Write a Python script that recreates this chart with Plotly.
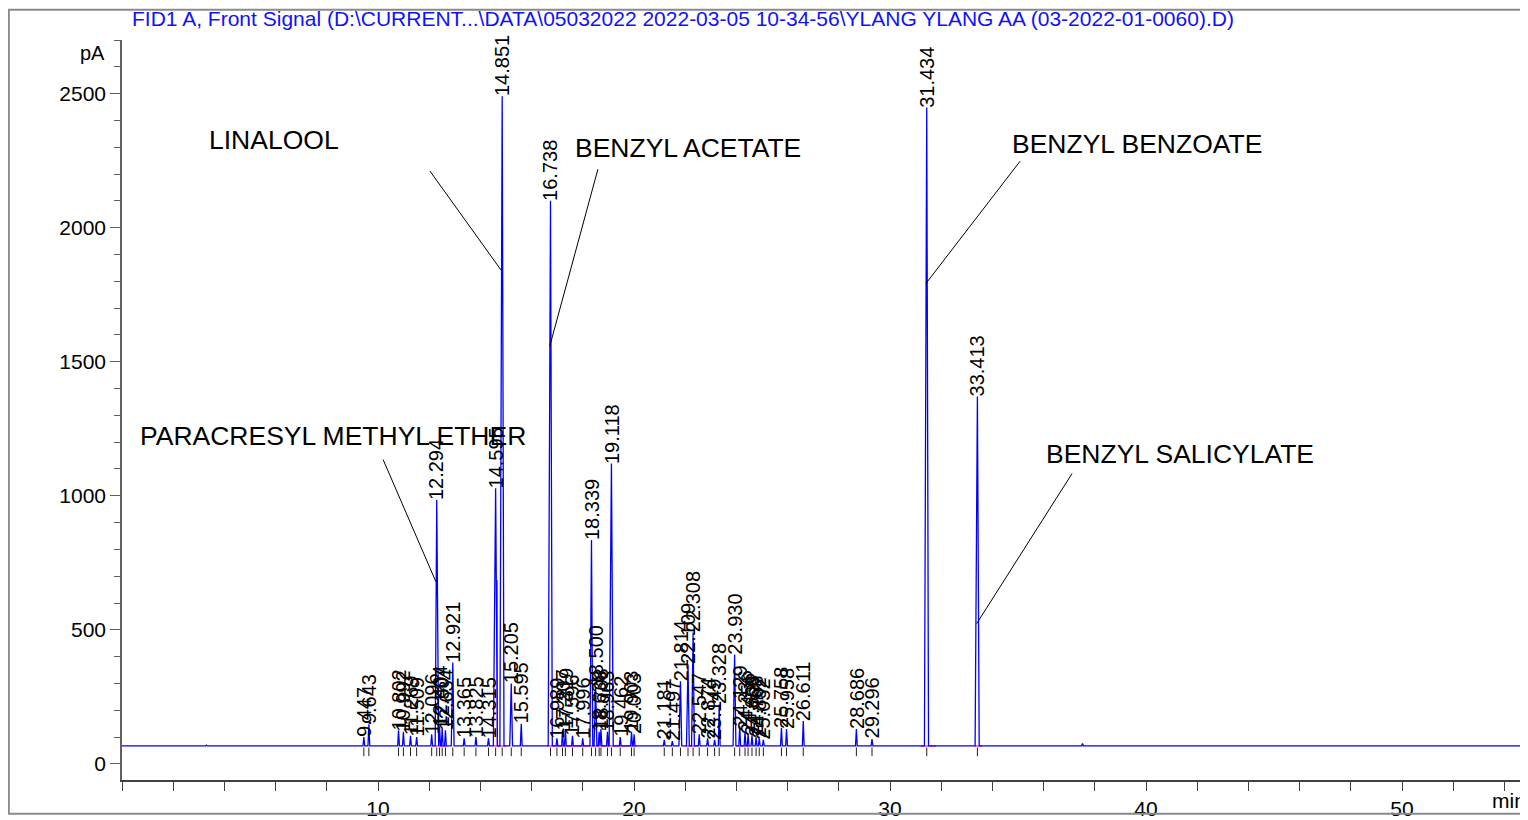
import plotly.graph_objects as go

# ---------------- data ----------------
baseline_level = 67

peak_rt = [9.447, 9.643, 10.802, 10.992, 11.269, 11.509, 12.096, 12.294, 12.404, 12.507,
           12.634, 12.921, 13.365, 13.825, 14.315, 14.595, 14.851, 15.205, 15.595, 16.738,
           16.989, 17.207, 17.319, 17.596, 17.996, 18.339, 18.500, 18.638, 18.708, 18.963,
           19.118, 19.462, 19.903, 20.003, 21.181, 21.497, 21.814, 22.109, 22.308, 22.547,
           22.874, 23.149, 23.328, 23.930, 24.129, 24.336, 24.456, 24.608, 24.768, 24.892,
           25.052, 25.758, 25.958, 26.611, 28.686, 29.296, 31.434, 33.413]
peak_height = [100, 148, 125, 120, 105, 100, 110, 985, 140, 135,
               125, 378, 95, 100, 95, 1028, 2490, 300, 150, 2100,
               95, 125, 130, 105, 95, 835, 290, 120, 130, 120,
               1120, 100, 120, 110, 90, 85, 308, 371, 490, 110,
               95, 90, 222, 408, 140, 120, 110, 105, 100, 95,
               90, 134, 130, 160, 130, 93, 2448, 1370]

extra_rt = [3.30, 37.52]
extra_height = [70, 76]

compound_names = ["PARACRESYL METHYL ETHER", "LINALOOL", "BENZYL ACETATE",
                  "BENZYL BENZOATE", "BENZYL SALICYLATE"]
compound_rt = [12.294, 14.851, 16.738, 31.434, 33.413]

integ_start = [12.20, 14.50, 16.60, 22.00, 24.00, 31.20, 33.30]
integ_end = [12.70, 15.00, 20.10, 22.50, 24.50, 31.80, 33.60]
drop_rt = [14.66]
drop_height = [685]

x_end = 54.92
title_text = ("FID1 A, Front Signal (D:\\CURRENT...\\DATA\\05032022 2022-03-05 10-34-56"
              "\\YLANG YLANG AA (03-2022-01-0060).D)")

# ---------------- build signal trace from peak list ----------------
all_peaks = sorted(zip(peak_rt + extra_rt, peak_height + extra_height))
sx, sy = [0.0], [baseline_level]
for rt, h in all_peaks:
    wl = 0.09 if h > 1000 else (0.06 if h > 250 else 0.035)
    wr = 0.07 if h > 1000 else (0.05 if h > 250 else 0.035)
    for px, py in ((rt - wl, baseline_level), (rt, h), (rt + wr, baseline_level)):
        if px > sx[-1]:
            sx.append(px); sy.append(py)
sx.append(x_end); sy.append(baseline_level)

fig = go.Figure()

# magenta integration baselines
mx, my = [], []
for a, b in zip(integ_start, integ_end):
    mx += [a, b, None]; my += [baseline_level, baseline_level, None]
for r, h in zip(drop_rt, drop_height):
    mx += [r, r, None]; my += [baseline_level, h, None]
fig.add_trace(go.Scatter(x=mx, y=my, mode="lines", line=dict(color="#ff00ff", width=1.2),
                         hoverinfo="skip"))

fig.add_trace(go.Scatter(x=sx, y=sy, mode="lines", line=dict(color="#0000ff", width=1.3),
                         hoverinfo="skip"))

# event ticks under peaks
tx, ty = [], []
for rt in peak_rt:
    tx += [rt, rt, None]; ty += [baseline_level - 6, baseline_level - 38, None]
fig.add_trace(go.Scatter(x=tx, y=ty, mode="lines", line=dict(color="#202020", width=1),
                         hoverinfo="skip"))

font_family = "Arial, Liberation Sans, sans-serif"
annotations = []
for rt, h in zip(peak_rt, peak_height):
    annotations.append(dict(x=rt, y=h, xref="x", yref="y", text=f"{rt:.3f}",
                            textangle=-90, showarrow=False, xanchor="center",
                            yanchor="bottom", yshift=-2,
                            font=dict(family=font_family, size=20, color="black")))

# compound labels with leader lines (layout positions)
comp_text_pos = [(8.24, 1224), (5.94, 2326), (22.11, 2296), (39.65, 2311), (41.33, 1157)]
comp_line_start = [(10.20, 1135), (12.03, 2211), (18.59, 2218), (35.08, 2248), (37.11, 1083)]
comp_line_end_y = [679, 1840, 1558, 1792, 523]
shapes = []
for name, rt, (tx_, ty_), (lx, ly), ey in zip(compound_names, compound_rt, comp_text_pos,
                                             comp_line_start, comp_line_end_y):
    annotations.append(dict(x=tx_, y=ty_, xref="x", yref="y", text=name, showarrow=False,
                            xanchor="center", yanchor="middle",
                            font=dict(family=font_family, size=26.5, color="black")))
    shapes.append(dict(type="line", xref="x", yref="y", x0=lx, y0=ly, x1=rt - 0.03, y1=ey,
                       line=dict(color="black", width=1)))

# title, units
annotations.append(dict(x=0.0057, y=1.0296, xref="paper", yref="paper", text=title_text,
                        showarrow=False, xanchor="left", yanchor="middle",
                        font=dict(family=font_family, size=21, color="#1010ff")))
annotations.append(dict(x=-0.0213, y=0.9825, xref="paper", yref="paper", text="pA",
                        showarrow=False, xanchor="center", yanchor="middle",
                        font=dict(family=font_family, size=20, color="black")))
annotations.append(dict(x=1.0, y=-0.0282, xref="paper", yref="paper", text="min",
                        showarrow=False, xanchor="right", yanchor="middle",
                        font=dict(family=font_family, size=21, color="black")))

# outer frame
shapes.append(dict(type="rect", xref="paper", yref="paper", x0=-0.0805, y0=-0.0457,
                   x1=1.01, y1=1.041, line=dict(color="#8a8a8a", width=2)))

fig.update_layout(
    width=1520, height=812, autosize=False,
    margin=dict(l=114, r=0, t=32, b=36),
    paper_bgcolor="white", plot_bgcolor="white",
    showlegend=False,
    annotations=annotations, shapes=shapes,
    font=dict(family=font_family, size=21, color="black"),
    xaxis=dict(range=[0, x_end], showgrid=False, zeroline=False,
               showline=True, linecolor="#404040", linewidth=1.5,
               tickmode="array", tickvals=[10, 20, 30, 40, 50],
               ticks="outside", ticklen=9, tickcolor="#404040",
               tickfont=dict(family=font_family, size=21, color="black"),
               minor=dict(dtick=2, tick0=0, ticks="outside", ticklen=9, tickcolor="#404040"),
               fixedrange=True),
    yaxis=dict(range=[-60, 2700], showgrid=False, zeroline=False,
               showline=True, linecolor="#606060", linewidth=1.5,
               tickmode="array", tickvals=[0, 500, 1000, 1500, 2000, 2500],
               ticks="outside", ticklen=10, tickcolor="#606060",
               tickfont=dict(family=font_family, size=21, color="black"),
               minor=dict(dtick=100, tick0=0, ticks="outside", ticklen=6, tickcolor="#606060"),
               fixedrange=True),
)

fig.write_html("out.html")
